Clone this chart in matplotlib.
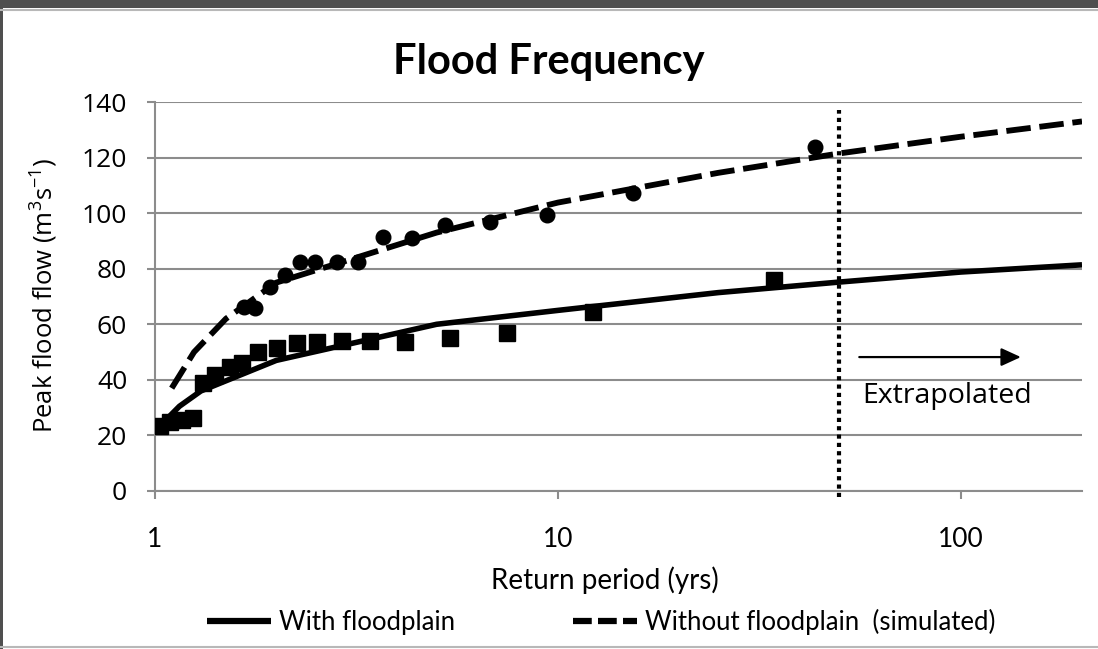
import matplotlib
matplotlib.use("Agg")
import matplotlib.pyplot as plt
from matplotlib.lines import Line2D
from matplotlib.patches import Rectangle

# observed annual peaks, with floodplain (squares)
obs_with_T = [1.03, 1.09, 1.165, 1.245, 1.318, 1.41, 1.536, 1.642, 1.806, 2.005,
              2.249, 2.522, 2.91, 3.42, 4.18, 5.41, 7.48, 12.25, 34.3]
obs_with_Q = [23.4, 24.9, 25.6, 26.2, 38.8, 41.8, 44.7, 46.2, 50.1, 51.4,
              53.2, 53.7, 54.1, 54.1, 53.7, 55.0, 57.0, 64.5, 76.0]

# simulated peaks, without floodplain (circles)
obs_without_T = [1.66, 1.77, 1.93, 2.10, 2.29, 2.50, 2.83, 3.19, 3.68, 4.34,
                 5.25, 6.80, 9.40, 15.4, 43.4]
obs_without_Q = [66.3, 65.8, 73.5, 77.8, 82.5, 82.5, 82.5, 82.5, 91.5, 91.0,
                 95.8, 96.9, 99.4, 107.3, 123.8]

# fitted curves
fit_with_T = [1.03, 1.15, 1.3, 2, 5, 10, 25, 50, 100, 200]
fit_with_Q = [23.5, 30.5, 36, 47, 60, 65, 71.4, 75.2, 78.8, 81.4]
fit_without_T = [1.1, 1.25, 1.5, 2, 5, 10, 25, 50, 100, 200]
fit_without_Q = [37, 50, 62, 75, 93, 103.8, 114.5, 121.5, 127.5, 133]

design_T = 50
y_ticks = [0, 20, 40, 60, 80, 100, 120, 140]
x_ticks = [1, 10, 100]
x_tick_labels = ["1", "10", "100"]

W, H = 1098, 649
fig = plt.figure(figsize=(W / 100, H / 100), dpi=100)
plt.rcParams["mathtext.default"] = "regular"
ax = fig.add_axes([155 / W, 1 - 491 / H, 927 / W, 389 / H])

grid_col = "#8c8c8c"

ax.plot(fit_with_T, fit_with_Q, color="black", lw=4, solid_capstyle="butt",
        label="With floodplain", zorder=3)
ax.plot(fit_without_T, fit_without_Q, color="black", lw=4.2, dashes=(4.2, 1.5),
        label="Without floodplain  (simulated)", zorder=3)
ax.plot(obs_with_T, obs_with_Q, ls="none", marker="s", ms=12, color="black", zorder=4)
ax.plot(obs_without_T, obs_without_Q, ls="none", marker="o", ms=10.5, color="black", zorder=4)

ax.plot([design_T, design_T], [-2, 137], color="black", lw=3, dashes=(1, 1),
        clip_on=False, zorder=3)
ax.annotate("", xy=(141, 48.2), xytext=(56, 48.2),
            arrowprops=dict(arrowstyle="-|>,head_length=1.2,head_width=0.55",
                            color="black", lw=1.6, shrinkA=0, shrinkB=0))
ax.text(57.1, 31.7, "Extrapolated", fontsize=20.5, family="Open Sans",
        va="baseline", ha="left")

ax.set_xscale("log")
ax.set_xlim(1, 200)
ax.set_ylim(0, 140)
ax.set_xticks(x_ticks)
ax.set_xticklabels(x_tick_labels, family="Lato", fontsize=19)
ax.minorticks_off()
ax.set_yticks(y_ticks)
ax.set_yticklabels([str(v) for v in y_ticks], family="Open Sans", fontsize=19)
ax.tick_params(axis="y", length=6, width=1.5, color=grid_col, pad=14)
ax.tick_params(axis="x", length=6, width=1.5, color=grid_col, pad=20)
ax.yaxis.grid(True, color=grid_col, lw=1.5)
ax.set_axisbelow(True)
for s in ["top", "right"]:
    ax.spines[s].set_visible(False)
for s in ["left", "bottom"]:
    ax.spines[s].set_color(grid_col)
    ax.spines[s].set_linewidth(1.5)

ax.set_xlabel("Return period (yrs)", family="Lato", fontsize=20)
ax.xaxis.set_label_coords((605 - 155) / 927, (491 - 566) / 389)
ax.set_ylabel(r"Peak flood flow (m$^{3}$s$^{-1}$)", family="Open Sans", fontsize=18.5)
ax.yaxis.set_label_coords((60 - 155) / 927, (491 - 295) / 389)

fig.text(549 / W, 1 - 62 / H, "Flood Frequency", family="Lato", weight="bold",
         fontsize=30, ha="center", va="center")

# legend handles with a dash pattern that fits three dashes
h_solid = Line2D([], [], color="black", lw=4.5, solid_capstyle="butt")
h_dash = Line2D([], [], color="black", lw=4.5, dashes=(3.0, 1.0))
fig.legend([h_solid, h_dash], ["With floodplain", "Without floodplain  (simulated)"],
           loc="center", bbox_to_anchor=(601 / W, 1 - 622 / H), ncol=2,
           frameon=False, prop=dict(family="Lato", size=18.5), handlelength=2.5,
           handletextpad=0.3, columnspacing=4.6)

# screenshot frame
fig.add_artist(Rectangle((0, 1 - 8 / H), 1, 8 / H, transform=fig.transFigure,
                         color="#4f4f4f", lw=0))
fig.add_artist(Line2D([0, 1], [1 - 10 / H, 1 - 10 / H], transform=fig.transFigure,
                      color="#b8b8b8", lw=1.5))
fig.add_artist(Rectangle((0, 0), 3 / W, 1, transform=fig.transFigure,
                         color="#4f4f4f", lw=0))
fig.add_artist(Line2D([0, 1], [2 / H, 2 / H], transform=fig.transFigure,
                      color="#b8b8b8", lw=1.5))

fig.savefig("out.png", dpi=100)
